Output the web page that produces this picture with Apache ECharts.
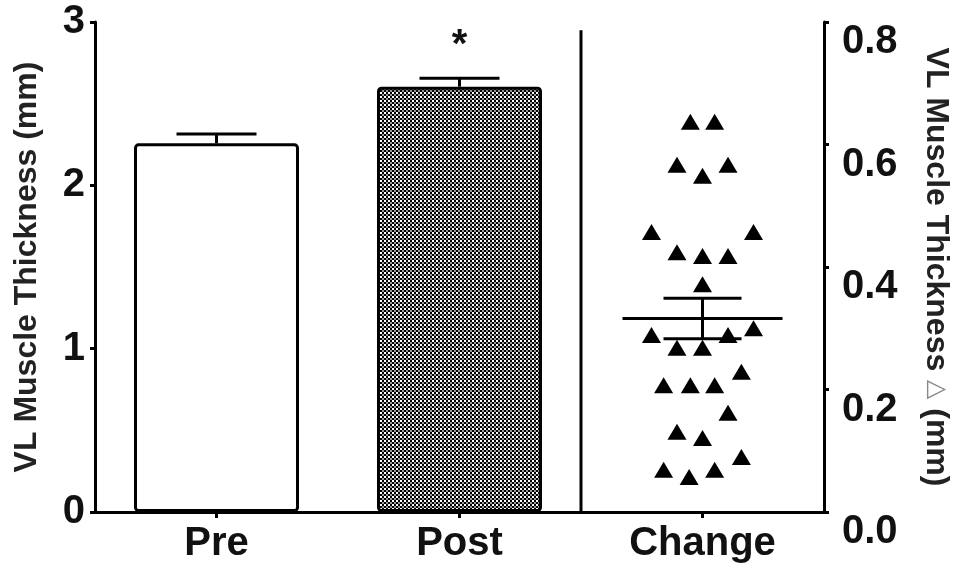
<!DOCTYPE html>
<html>
<head>
<meta charset="utf-8">
<script src="https://cdn.jsdelivr.net/npm/echarts@6/dist/echarts.min.js"></script>
<style>
html,body{margin:0;padding:0;background:#fff;}
#chart{width:960px;height:579px;}
</style>
</head>
<body>
<div id="chart"></div>
<script>
// ---- data ----
const categories = ['Pre', 'Post', 'Change'];
const barMeans = [2.257, 2.604];          // mm, left axis
const barSE = [0.057, 0.052];
const significance = ['', '*'];
const leftTicks = ['0', '1', '2', '3'];
const rightTicks = ['0.0', '0.2', '0.4', '0.6', '0.8'];
// individual changes (mm, right axis) and horizontal jitter (category units)
const changeValues = [0.637, 0.637, 0.567, 0.567, 0.549, 0.457, 0.457, 0.424, 0.418, 0.418,
  0.372, 0.289, 0.268, 0.268, 0.289, 0.300, 0.207, 0.207, 0.207, 0.229,
  0.162, 0.131, 0.121, 0.069, 0.057, 0.069, 0.090];
const changeJitter = [-0.05, 0.05, -0.105, 0.105, 0, -0.21, 0.21, -0.105, 0, 0.105,
  0, -0.21, -0.105, 0, 0.105, 0.21, -0.16, -0.05, 0.05, 0.16,
  0.105, -0.105, 0, -0.16, -0.055, 0.05, 0.16];
const changeMean = 0.316;
const changeSEM = 0.033;
const separatorAt = 2;      // category boundary
const separatorTop = 2.95;

// ---- pattern ----
const tile = document.createElement('canvas');
tile.width = 4; tile.height = 4;
const tctx = tile.getContext('2d');
tctx.fillStyle = '#000'; tctx.fillRect(0, 0, 4, 4);
tctx.fillStyle = '#fff'; tctx.fillRect(0, 0, 2, 2);
tctx.fillStyle = '#9a9a9a'; tctx.fillRect(2, 2, 2, 2);
const checker = { image: tile, repeat: 'repeat' };

const FONT = 'Liberation Sans, Arial, sans-serif';
const chart = echarts.init(document.getElementById('chart'), null, { renderer: 'canvas' });

const changeIdx = categories.indexOf('Change');
const scatterData = changeValues.map((v, i) => [changeIdx + 0.5 + changeJitter[i], v]);
const errData = barMeans.map((m, i) => [i + 0.5, m, barSE[i]]);

const option = {
  animation: false,
  backgroundColor: '#fff',
  grid: { left: 95, right: 135, top: 22, bottom: 67, containLabel: false },
  xAxis: [
    {
      type: 'category', data: categories, boundaryGap: true,
      axisLine: { show: true, lineStyle: { color: '#000', width: 3 } },
      axisTick: { show: true, alignWithLabel: true, length: 6, lineStyle: { color: '#000', width: 3 } },
      axisLabel: { color: '#111', fontFamily: FONT, fontWeight: 'bold', fontSize: 40, margin: 12 },
      splitLine: { show: false }
    },
    { type: 'value', min: 0, max: 3, show: false }
  ],
  yAxis: [
    {
      type: 'value', min: 0, max: 3, interval: 1, position: 'left',
      name: 'VL Muscle Thickness (mm)', nameLocation: 'middle', nameGap: 52, nameRotate: 90,
      nameTextStyle: { color: '#222', fontFamily: FONT, fontWeight: 'bold', fontSize: 32 },
      axisLine: { show: true, lineStyle: { color: '#000', width: 3 } },
      axisTick: { show: true, length: 5, lineStyle: { color: '#000', width: 3 } },
      axisLabel: { color: '#111', fontFamily: FONT, fontWeight: 'bold', fontSize: 40, margin: 10,
        formatter: v => leftTicks[Math.round(v)] },
      splitLine: { show: false }
    },
    {
      type: 'value', min: 0, max: 0.8, interval: 0.2, position: 'right',
      name: 'VL Muscle Thickness {d|△} (mm)', nameLocation: 'middle', nameGap: 96, nameRotate: -90,
      nameTextStyle: { color: '#222', fontFamily: FONT, fontWeight: 'bold', fontSize: 32,
        rich: { d: { color: '#888', fontFamily: 'DejaVu Sans', fontWeight: 'normal', fontSize: 25 } } },
      axisLine: { show: true, lineStyle: { color: '#000', width: 3 } },
      axisTick: { show: true, length: 5, lineStyle: { color: '#000', width: 3 } },
      axisLabel: { color: '#111', fontFamily: FONT, fontWeight: 'bold', fontSize: 40, margin: 18,
        verticalAlign: 'top', formatter: v => rightTicks[Math.round(v * 5)] },
      splitLine: { show: false }
    }
  ],
  series: [
    {
      type: 'bar', xAxisIndex: 0, yAxisIndex: 0, barWidth: 165,
      data: [
        { value: barMeans[0], itemStyle: { color: '#fff' } },
        { value: barMeans[1], itemStyle: { color: checker } },
        '-'
      ],
      itemStyle: { borderColor: '#000', borderWidth: 3, borderRadius: 3 },
      z: 2
    },
    {
      type: 'custom', xAxisIndex: 1, yAxisIndex: 0, data: errData, z: 3,
      renderItem: function (params, api) {
        const x = api.value(0), m = api.value(1), se = api.value(2);
        const base = api.coord([x, m]);
        const top = api.coord([x, m + se]);
        const st = { stroke: '#000', lineWidth: 3 };
        const children = [
          { type: 'line', shape: { x1: top[0], y1: base[1], x2: top[0], y2: top[1] }, style: st },
          { type: 'line', shape: { x1: top[0] - 40, y1: top[1], x2: top[0] + 40, y2: top[1] }, style: st }
        ];
        const s = significance[params.dataIndex];
        if (s) {
          children.push({ type: 'text', x: top[0], y: top[1] - 32,
            style: { text: s, fill: '#111', font: 'bold 40px ' + FONT, align: 'center', verticalAlign: 'middle' } });
        }
        return { type: 'group', children: children };
      }
    },
    {
      type: 'custom', xAxisIndex: 1, yAxisIndex: 0, data: [[separatorAt, separatorTop]], z: 3,
      renderItem: function (params, api) {
        const a = api.coord([api.value(0), 0]);
        const b = api.coord([api.value(0), api.value(1)]);
        return { type: 'line', shape: { x1: a[0], y1: a[1], x2: b[0], y2: b[1] },
          style: { stroke: '#000', lineWidth: 3 } };
      }
    },
    {
      type: 'scatter', xAxisIndex: 1, yAxisIndex: 1, data: scatterData,
      symbol: 'triangle', symbolSize: [19, 16],
      itemStyle: { color: '#000', opacity: 1 }, z: 4
    },
    {
      type: 'custom', xAxisIndex: 1, yAxisIndex: 1, data: [[changeIdx + 0.5, changeMean, changeSEM]], z: 5,
      renderItem: function (params, api) {
        const x = api.value(0), m = api.value(1), se = api.value(2);
        const c = api.coord([x, m]);
        const hi = api.coord([x, m + se]);
        const lo = api.coord([x, m - se]);
        const st = { stroke: '#000', lineWidth: 3 };
        return { type: 'group', children: [
          { type: 'line', shape: { x1: c[0] - 80, y1: c[1], x2: c[0] + 80, y2: c[1] }, style: st },
          { type: 'line', shape: { x1: c[0], y1: lo[1], x2: c[0], y2: hi[1] }, style: st },
          { type: 'line', shape: { x1: c[0] - 39, y1: hi[1], x2: c[0] + 39, y2: hi[1] }, style: st },
          { type: 'line', shape: { x1: c[0] - 39, y1: lo[1], x2: c[0] + 39, y2: lo[1] }, style: st }
        ] };
      }
    }
  ]
};
chart.setOption(option);
</script>
</body>
</html>
